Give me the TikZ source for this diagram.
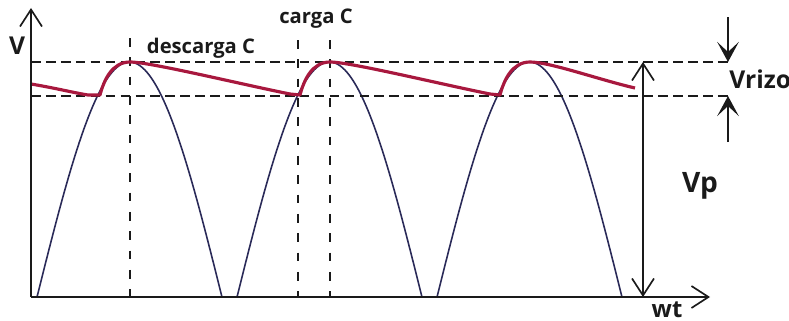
\documentclass[tikz,border=0pt]{standalone}
\usepackage{fontspec}
\setmainfont{Open Sans}
\usepackage{tikz}
\usetikzlibrary{arrows.meta,positioning}
\definecolor{ripplered}{HTML}{A8183E}
\definecolor{archblue}{HTML}{2A2A58}
\definecolor{inkblack}{HTML}{1A1A1A}

\begin{document}
\begin{tikzpicture}[x=0.02cm,y=-0.02cm,font=\bfseries,text=inkblack,
        axisline/.style={draw=inkblack,line width=0.95pt},
        barb/.style={-{Straight Barb[length=3.4mm,width=4.4mm]}},
        twobarb/.style={{Straight Barb[length=3.4mm,width=4.4mm]}-{Straight Barb[length=3.4mm,width=4.4mm]}},
        guide/.style={draw=inkblack,line width=1.3pt,dash pattern=on 5.5pt off 3pt},
        tickline/.style={draw=inkblack,line width=0.9pt,dash pattern=on 5pt off 6pt},
        ripple/.style={draw=ripplered,line width=1.8pt,line join=round},
        arch/.style={draw=archblue,line width=0.9pt},
        solidhead/.style={draw=inkblack,line width=1.2pt,-{Stealth[length=4mm,width=4.3mm,inset=2mm]}}]
        \useasboundingbox (0,0) rectangle (789,321);
        \coordinate (o) at (31,297);
        \coordinate (ytip) at (31,8);
        \coordinate (xtip) at (710,297);
        \coordinate (toplvl) at (728,62);
        \coordinate (lowlvl) at (728,96);
        \coordinate (vptop) at (643,62);
        \coordinate (vpbot) at (643,297);
        \foreach \off in {0,200,400}
          \draw[arch] plot[domain=37:222,samples=80,smooth]
                ({\x+\off},{297-235*sin(0.973*(\x-37))});
        \draw[guide] (31,62) -- (toplvl);
        \draw[guide] (31,96) -- (lowlvl);
        \draw[tickline] (130,38) -- (130,297);
        \draw[tickline] (298,40) -- (298,297);
        \draw[tickline] (330,40) -- (330,297);
        \draw[ripple] (31,84) .. controls (55,88) and (75,93) .. (88,95) -- (100,95)
              .. controls (104,80) and (112,62) .. (130,62)
              .. controls (150,62) and (240,84) .. (290,94) -- (300,95)
              .. controls (304,80) and (312,62) .. (330,62)
              .. controls (350,62) and (440,84) .. (490,94) -- (500,95)
              .. controls (504,80) and (512,62) .. (530,62)
              .. controls (550,62) and (600,80) .. (635,88);
        \draw[axisline,barb] (o) -- (ytip);
        \draw[axisline,barb] (o) -- (xtip);
        \draw[axisline,twobarb] (vptop) -- (vpbot);
        \coordinate (rtop) at (728,17);
        \coordinate (rbot) at (728,142);
        \draw[solidhead] (rtop) -- (toplvl);
        \draw[solidhead] (rbot) -- (lowlvl);
        \node[font=\bfseries\fontsize{14}{16}\selectfont] (vlab) at (17,46) {V};
        \node[font=\bfseries\fontsize{11.5}{13}\selectfont] (desc) at (201,48) {descarga C};
        \node[font=\bfseries\fontsize{11.5}{13}\selectfont] (carga) at (316,19) {carga C};
        \node[font=\bfseries\fontsize{14}{16}\selectfont,anchor=west,inner sep=0pt]
              (vrizo) at (729,79) {Vrizo};
        \node[font=\bfseries\fontsize{16}{18}\selectfont] (vp) at (700,186) {Vp};
        \node[font=\bfseries\fontsize{13.5}{15}\selectfont] (wt) at (667,310) {wt};
      \end{tikzpicture}
\end{document}
